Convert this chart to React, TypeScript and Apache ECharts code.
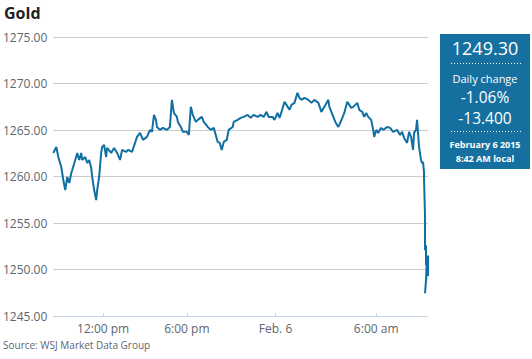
import React, { useEffect, useRef } from "react";
import * as echarts from "echarts";

const title = "Gold";
const source = "Source: WSJ Market Data Group";
const yTicks = [1245, 1250, 1255, 1260, 1265, 1270, 1275];
const xTickPositions = [50, 134, 223, 324];
const xTickLabels = ["12:00 pm", "6:00 pm", "Feb. 6", "6:00 am"];
// session index (0..376) of each traced trade
const xs = [
  0, 3, 5, 8, 10, 12, 14, 16, 18, 19, 22, 24, 26, 28, 29, 32, 34, 36, 38, 39, 41, 43, 44, 46, 48, 49, 51, 53, 54,
  58, 61, 64, 67, 69, 73, 75, 79, 82, 84, 87, 90, 94, 97, 99, 101, 103, 104, 107, 110, 114, 117, 119, 121, 124, 125,
  128, 130, 134, 136, 138, 140, 143, 145, 149, 151, 155, 158, 161, 163, 165, 167, 169, 171, 174, 176, 180, 181, 185,
  188, 191, 195, 198, 201, 205, 208, 211, 214, 216, 220, 222, 225, 227, 229, 232, 234, 237, 239, 242, 245, 247, 249,
  252, 256, 259, 262, 266, 269, 272, 276, 277, 279, 281, 283, 286, 287, 290, 292, 295, 297, 299, 301, 305, 307, 310,
  312, 314, 316, 319, 321, 322, 324, 326, 329, 331, 335, 338, 341, 345, 348, 350, 352, 355, 357, 359, 361, 362, 364,
  365, 366, 367, 369, 370, 371, 372, 372, 373, 373, 374, 374, 375, 374, 373, 375, 376, 376,
];
const prices = [
  1262.53, 1263.18, 1262.1, 1261.02, 1259.62, 1258.54, 1259.95, 1259.3, 1260.38, 1260.7, 1261.78, 1262.53, 1261.78,
  1262.53, 1261.78, 1262.1, 1261.45, 1261.78, 1260.92, 1259.95, 1258.54, 1257.47, 1258.54, 1259.95, 1262.53, 1263.18,
  1263.39, 1262.1, 1263.07, 1262.53, 1263.07, 1262.53, 1261.78, 1262.86, 1262.64, 1262.86, 1262.64, 1263.61, 1264.26,
  1264.69, 1263.93, 1264.26, 1265.01, 1264.8, 1266.63, 1266.09, 1265.33, 1265.01, 1265.23, 1265.01, 1265.33, 1268.24,
  1266.84, 1266.41, 1265.87, 1265.33, 1264.8, 1264.8, 1264.47, 1267.49, 1266.63, 1265.87, 1266.09, 1266.41, 1265.87,
  1265.33, 1265.01, 1265.23, 1264.47, 1263.72, 1263.61, 1262.86, 1263.72, 1263.93, 1265.01, 1265.33, 1265.87,
  1266.09, 1266.3, 1266.41, 1266.63, 1266.3, 1266.63, 1266.41, 1266.63, 1266.41, 1266.95, 1266.41, 1266.41, 1266.09,
  1266.84, 1266.3, 1266.95, 1268.03, 1267.7, 1267.17, 1267.7, 1267.92, 1269.0, 1268.46, 1268.24, 1268.46, 1268.24,
  1267.92, 1268.24, 1267.92, 1266.95, 1267.49, 1268.24, 1267.49, 1266.95, 1266.41, 1265.87, 1265.33, 1265.55,
  1266.3, 1266.84, 1268.03, 1267.7, 1267.38, 1267.49, 1267.92, 1267.17, 1266.95, 1266.41, 1266.84, 1266.41, 1266.09,
  1265.01, 1264.26, 1265.01, 1264.69, 1265.23, 1265.01, 1265.33, 1265.23, 1264.8, 1265.01, 1264.47, 1264.8, 1264.15,
  1263.61, 1264.8, 1264.26, 1262.86, 1264.69, 1265.01, 1266.09, 1264.69, 1263.18, 1261.78, 1261.45, 1261.56,
  1260.49, 1259.84, 1255.85, 1252.08, 1252.6, 1250.46, 1251.5, 1248.84, 1247.45, 1250.1, 1251.5, 1249.3,
];
const lastPrice = "1249.30";
const changeLabel = "Daily change";
const changePct = "-1.06%";
const changeAbs = "-13.400";
const dateLabel = "February 6 2015";
const timeLabel = "8:42 AM local";

const FONT = "'Open Sans', sans-serif";

export default function App() {
  const ref = useRef<HTMLDivElement>(null);
  useEffect(() => {
    if (!ref.current) return;
    const chart = echarts.init(ref.current, null, { renderer: "svg" });
    const data = xs.map((x, i) => [x, prices[i]]);
    const white = "#ffffff";
    chart.setOption({
      animation: false,
      textStyle: { fontFamily: FONT },
      grid: { left: 53, right: 104, top: 37, bottom: 43 },
      xAxis: {
        type: "value",
        min: 0,
        max: 376,
        axisLine: { show: true, lineStyle: { color: "#c5d5e4", width: 1 } },
        axisTick: {
          show: true,
          inside: true,
          length: 3,
          customValues: xTickPositions,
          lineStyle: { color: "#c5d5e4" },
        },
        axisLabel: {
          customValues: xTickPositions,
          formatter: (v: number) => {
            const i = xTickPositions.indexOf(v);
            return i >= 0 ? xTickLabels[i] : "";
          },
          color: "#5c6670",
          fontSize: 12,
          fontFamily: FONT,
          margin: 6,
        },
        splitLine: { show: false },
      },
      yAxis: {
        type: "value",
        min: yTicks[0],
        max: yTicks[yTicks.length - 1],
        interval: 5,
        axisLine: { show: false },
        axisTick: { show: false },
        axisLabel: {
          formatter: (v: number) => v.toFixed(2),
          color: "#5c6670",
          fontSize: 12,
          fontFamily: FONT,
          margin: 6,
        },
        splitLine: { lineStyle: { color: "#cccccc", width: 1 } },
      },
      series: [
        {
          type: "line",
          data,
          showSymbol: false,
          symbol: "none",
          lineStyle: { color: "#106fa3", width: 2 },
          z: 5,
        },
      ],
      graphic: [
        {
          type: "text",
          left: 4,
          top: 5,
          style: { text: title, fontSize: 16, fontWeight: "bold", fill: "#222222", fontFamily: FONT },
        },
        {
          type: "text",
          left: 3,
          top: 340,
          style: { text: source, fontSize: 10, fill: "#5c6670", fontFamily: FONT },
        },
        {
          type: "group",
          left: 440,
          top: 34,
          children: [
            { type: "rect", shape: { x: 0, y: 0, width: 90, height: 135 }, style: { fill: "#15709f" } },
            {
              type: "text",
              x: 45,
              y: 14,
              style: { text: lastPrice, fontSize: 18, fill: white, align: "center", verticalAlign: "middle", fontFamily: FONT },
            },
            {
              type: "line",
              shape: { x1: 11, y1: 29.5, x2: 81, y2: 29.5 },
              style: { stroke: white, lineWidth: 1, lineDash: [1, 2] },
            },
            {
              type: "text",
              x: 45,
              y: 44.5,
              style: { text: changeLabel, fontSize: 11, fill: white, align: "center", verticalAlign: "middle", fontFamily: FONT },
            },
            {
              type: "text",
              x: 45,
              y: 62.5,
              style: { text: changePct, fontSize: 15.5, fill: white, align: "center", verticalAlign: "middle", fontFamily: FONT },
            },
            {
              type: "text",
              x: 45,
              y: 84,
              style: { text: changeAbs, fontSize: 15.5, fill: white, align: "center", verticalAlign: "middle", fontFamily: FONT },
            },
            {
              type: "line",
              shape: { x1: 11, y1: 97.5, x2: 81, y2: 97.5 },
              style: { stroke: white, lineWidth: 1, lineDash: [1, 2] },
            },
            {
              type: "text",
              x: 45,
              y: 110.5,
              style: { text: dateLabel, fontSize: 9, fontWeight: "bold", fill: white, align: "center", verticalAlign: "middle", fontFamily: FONT },
            },
            {
              type: "text",
              x: 45,
              y: 124,
              style: { text: timeLabel, fontSize: 9, fontWeight: "bold", fill: white, align: "center", verticalAlign: "middle", fontFamily: FONT },
            },
          ],
        },
      ],
    });
    return () => chart.dispose();
  }, []);
  return (
    <div
      ref={ref}
      style={{ position: "fixed", left: 0, top: 0, width: 532, height: 359, background: "#ffffff" }}
    />
  );
}
